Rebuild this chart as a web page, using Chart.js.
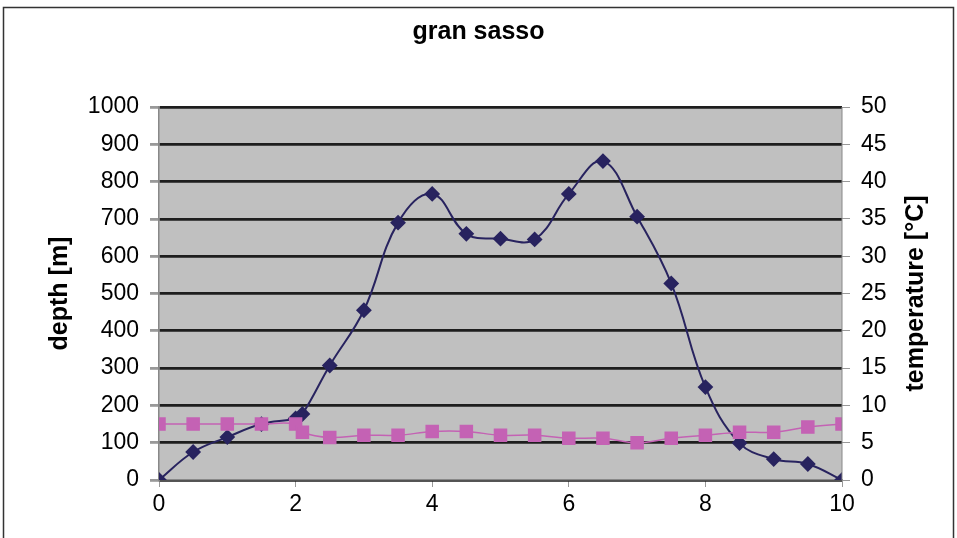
<!DOCTYPE html>
<html>
<head>
<meta charset="utf-8">
<script src="https://cdn.jsdelivr.net/npm/chart.js@4/dist/chart.umd.min.js"></script>
<style>
  html, body { margin: 0; padding: 0; background: #fff; }
  #wrap { width: 957px; height: 538px; position: relative; }
</style>
</head>
<body>
<div id="wrap"><canvas id="mycanvas"></canvas></div>
<script>
// x positions (km along the tunnel)
var distance = [0, 0.5, 1, 1.5, 2, 2.1, 2.5, 3, 3.5, 4, 4.5, 5, 5.5, 6, 6.5, 7, 7.5, 8, 8.5, 9, 9.5, 10];
// rock overburden, left axis
var depth = [0, 75, 115, 150, 165, 177, 307, 455, 690, 767, 660, 647, 645, 767, 855, 706, 527, 249, 99, 56, 43, 0];
// temperature, right axis
var temperature = [7.5, 7.5, 7.5, 7.5, 7.5, 6.4, 5.7, 6.0, 6.0, 6.5, 6.5, 6.0, 6.0, 5.6, 5.6, 5.0, 5.6, 6.0, 6.4, 6.4, 7.1, 7.5];

var xTicks = [0, 2, 4, 6, 8, 10];
var rightTitle = 'temperature [°C]';

var FONT = 'Liberation Sans, Arial, sans-serif';

function toPoints(xs, ys) {
  var out = [];
  for (var i in xs) out.push({x: xs[i], y: ys[i]});
  return out;
}

// grey plot area, outer frame, right title (reads bottom to top like the left one)
var background = {
  id: 'background',
  beforeDraw: function(chart) {
    var c = chart.ctx, a = chart.chartArea;
    c.save();
    c.fillStyle = '#c0c0c0';
    c.fillRect(a.left, a.top, a.right - a.left, a.bottom - a.top);
    c.strokeStyle = '#333';
    c.lineWidth = 1.5;
    c.strokeRect(3.5, 7.5, 950, 540);
    c.restore();
  },
  afterDatasetsDraw: function(chart) {
    var c = chart.ctx, a = chart.chartArea;
    c.save();
    c.strokeStyle = '#888';
    c.lineWidth = 1;
    c.beginPath();
    c.moveTo(a.right, a.top);
    c.lineTo(a.right, a.bottom);
    c.stroke();
    c.translate(916, (a.top + a.bottom) / 2);
    c.rotate(-Math.PI / 2);
    c.fillStyle = '#000';
    c.font = 'bold 25px ' + FONT;
    c.textAlign = 'center';
    c.textBaseline = 'middle';
    c.fillText(rightTitle, 0, 0);
    c.restore();
  }
};

var ctx = document.getElementById('mycanvas').getContext('2d');

var chart = new Chart(ctx, {
  type: 'line',
  data: {
    datasets: [
      {
        label: 'temperature',
        yAxisID: 'y2',
        data: toPoints(distance, temperature),
        borderColor: '#c462b4',
        backgroundColor: '#c462b4',
        borderWidth: 1.5,
        pointStyle: 'rect',
        pointRadius: 8.5,
        tension: 0.4,
        order: 1
      },
      {
        label: 'depth',
        yAxisID: 'y',
        data: toPoints(distance, depth),
        borderColor: '#28235f',
        backgroundColor: '#28235f',
        borderWidth: 2,
        pointStyle: 'rectRot',
        pointRadius: 6.5,
        tension: 0.4,
        order: 2
      }
    ]
  },
  options: {
    responsive: true,
    maintainAspectRatio: false,
    animation: false,
    layout: { padding: 0 },
    plugins: {
      legend: { display: false },
      tooltip: { enabled: false },
      title: {
        display: true,
        text: 'gran sasso',
        color: '#000',
        font: { family: FONT, size: 25, weight: 'bold' },
        padding: { top: 17, bottom: 60 }
      }
    },
    scales: {
      x: {
        type: 'linear',
        min: 0, max: 10,
        afterBuildTicks: function(axis) { axis.ticks = xTicks.map(function(v) { return {value: v}; }); },
        afterFit: function(axis) { axis.height = 58; },
        grid: { drawOnChartArea: false, color: '#999', tickLength: 7 },
        border: { color: '#888', width: 1.5 },
        ticks: { color: '#000', font: { family: FONT, size: 23 }, padding: 4 }
      },
      y: {
        position: 'left',
        min: 0, max: 1000,
        afterFit: function(axis) { axis.width = 159; },
        grid: { color: '#1e1e1e', lineWidth: 2.8, tickColor: '#999', tickLength: 9 },
        border: { color: '#888', width: 1.5 },
        ticks: {
          stepSize: 100, color: '#000', font: { family: FONT, size: 23 }, padding: 11,
          callback: function(v) { return String(v); }
        },
        title: { display: true, text: 'depth [m]', color: '#000', font: { family: FONT, size: 25, weight: 'bold' }, padding: { top: 45, bottom: 0 } }
      },
      y2: {
        position: 'right',
        min: 0, max: 50,
        afterFit: function(axis) { axis.width = 957 - 842; },
        grid: { drawOnChartArea: false, tickColor: '#999', tickLength: 8 },
        border: { display: false },
        ticks: { stepSize: 5, color: '#000', font: { family: FONT, size: 23 }, padding: 11 }
      }
    }
  },
  plugins: [background]
});
</script>
</body>
</html>
